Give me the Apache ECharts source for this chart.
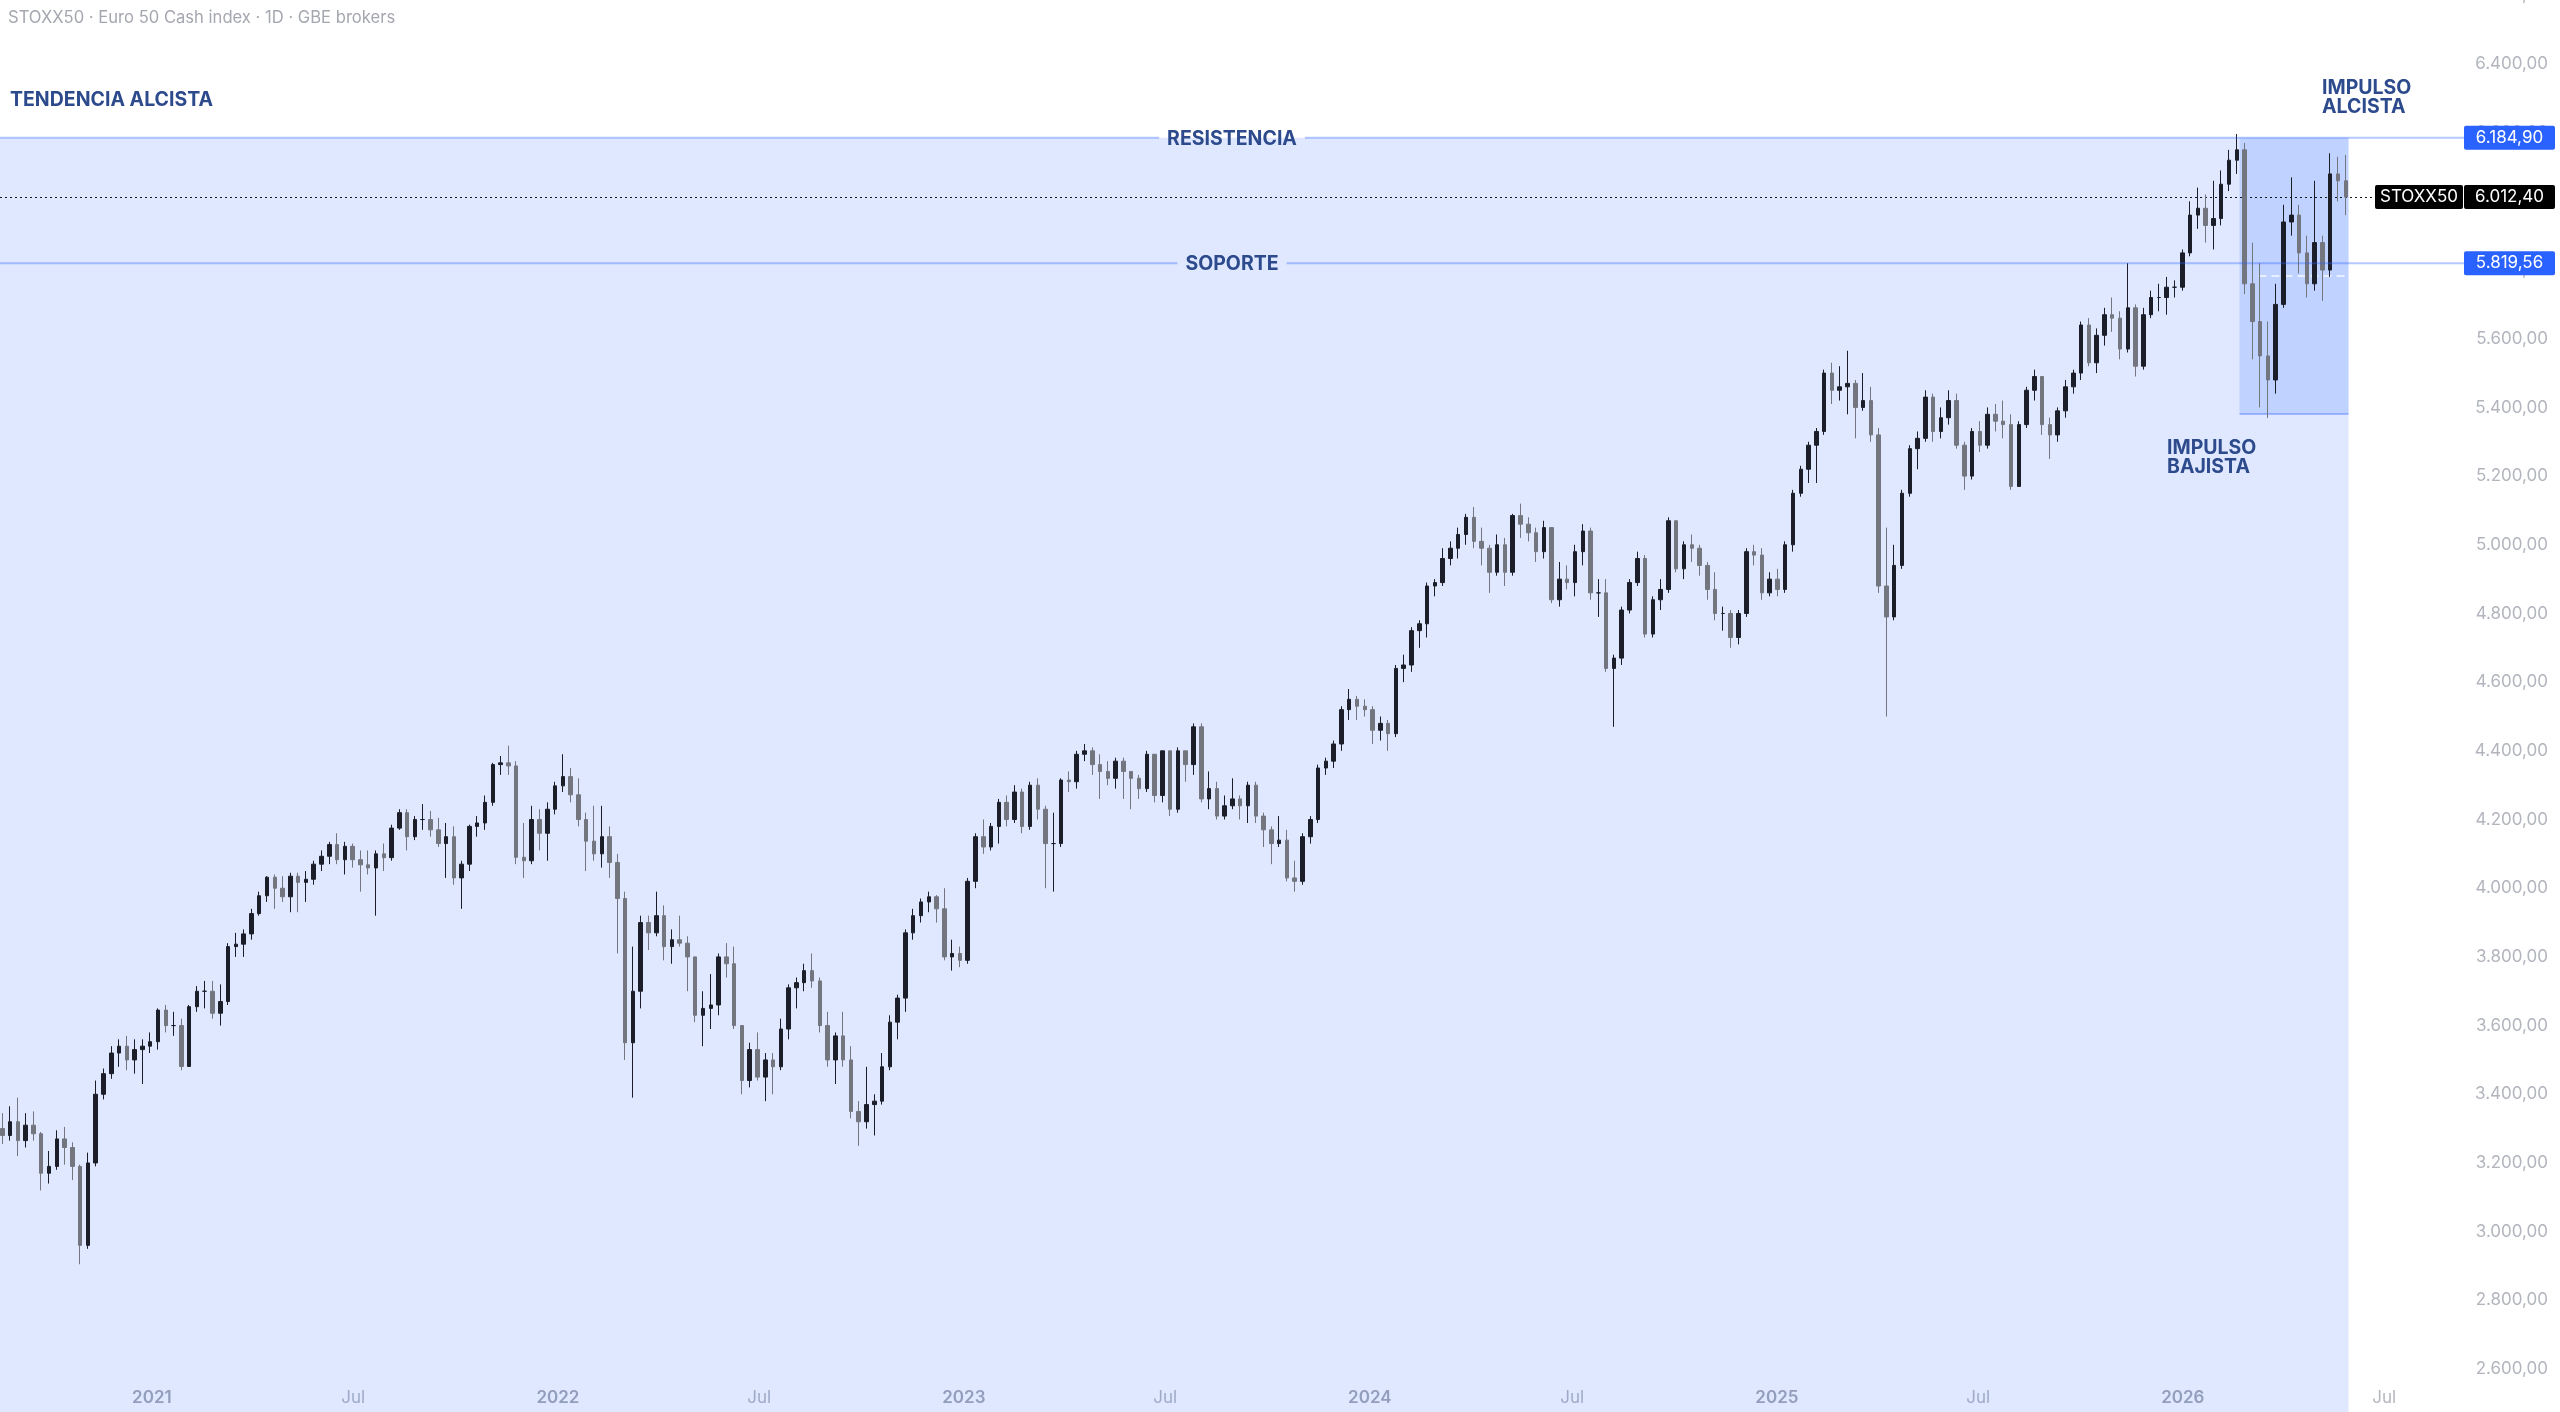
<!DOCTYPE html>
<html>
<head>
<meta charset="utf-8">
<script src="https://cdn.jsdelivr.net/npm/echarts@6/dist/echarts.min.js"></script>
<style>
html,body{margin:0;padding:0;background:#ffffff;}
#c{width:2560px;height:1412px;}
</style>
</head>
<body>
<div id="c"></div>
<script>
// ---------- DATA (weekly candles: [open, close, low, high]) ----------
const dates2020 = ['08-19','08-26','09-02','09-09','09-16','09-23','09-30','10-07','10-14','10-21','10-28','11-04','11-11','11-18','11-25','12-02','12-09','12-16','12-23','12-30'];
const candles2020 = [
[3300,3280,3255,3345],[3280,3320,3265,3365],[3320,3265,3220,3390],[3265,3310,3245,3345],[3310,3285,3265,3350],
[3285,3170,3120,3290],[3170,3190,3140,3235],[3190,3270,3180,3295],[3270,3245,3195,3305],[3245,3190,3150,3260],
[3190,2960,2905,3195],[2960,3200,2950,3230],[3200,3400,3190,3440],[3400,3460,3385,3475],[3460,3520,3445,3540],
[3520,3540,3480,3560],[3540,3500,3470,3570],[3500,3530,3460,3560],[3530,3540,3430,3560],[3540,3553,3520,3580]];

const dates2021 = ['01-06','01-13','01-20','01-27','02-03','02-10','02-17','02-24','03-03','03-10','03-17','03-24','03-31','04-07','04-14','04-21','04-28','05-05','05-12','05-19','05-26','06-02','06-09','06-16','06-23','06-30','07-07','07-14','07-21','07-28','08-04','08-11','08-18','08-25','09-01','09-08','09-15','09-22','09-29','10-06','10-13','10-20','10-27','11-03','11-10','11-17','11-24','12-01','12-08','12-15','12-22','12-29'];
const candles2021 = [
[3553,3645,3530,3650],[3645,3600,3580,3660],[3600,3600,3570,3640],[3600,3481,3470,3620],[3481,3655,3480,3660],
[3655,3700,3640,3715],[3700,3700,3650,3730],[3700,3636,3620,3730],[3636,3670,3600,3720],[3670,3830,3660,3840],
[3830,3837,3800,3870],[3837,3867,3800,3880],[3867,3926,3850,3940],[3926,3978,3920,3990],[3978,4032,3960,4035],
[4032,4000,3940,4040],[4000,3975,3960,4035],[3975,4035,3930,4045],[4035,4017,3930,4045],[4017,4026,3960,4050],
[4026,4070,4010,4080],[4070,4093,4050,4110],[4093,4127,4070,4135],[4127,4083,4070,4160],[4083,4122,4040,4135],
[4122,4083,4060,4130],[4083,4068,3990,4110],[4068,4059,4040,4110],[4059,4100,3920,4110],[4100,4089,4050,4130],
[4089,4175,4080,4185],[4175,4220,4170,4230],[4220,4150,4110,4230],[4150,4200,4140,4210],[4200,4200,4170,4245],
[4200,4170,4150,4225],[4170,4130,4120,4205],[4130,4150,4030,4190],[4150,4030,4010,4180],[4030,4070,3940,4080],
[4070,4180,4050,4185],[4180,4190,4150,4210],[4190,4250,4170,4270],[4250,4360,4240,4365],[4360,4365,4330,4385],
[4365,4356,4330,4415],[4356,4090,4070,4370],[4090,4080,4030,4190],[4080,4200,4070,4240],[4200,4160,4110,4230],
[4160,4230,4080,4250],[4230,4298,4215,4310]];

const dates2022 = ['01-05','01-12','01-19','01-26','02-02','02-09','02-16','02-23','03-02','03-09','03-16','03-23','03-30','04-06','04-13','04-20','04-27','05-04','05-11','05-18','05-25','06-01','06-08','06-15','06-22','06-29','07-06','07-13','07-20','07-27','08-03','08-10','08-17','08-24','08-31','09-07','09-14','09-21','09-28','10-05','10-12','10-19','10-26','11-02','11-09','11-16','11-23','11-30','12-07','12-14','12-21','12-28'];
const candles2022 = [
[4298,4325,4280,4390],[4325,4272,4250,4350],[4272,4200,4180,4320],[4200,4137,4050,4220],[4137,4100,4080,4240],
[4100,4150,4060,4240],[4150,4075,4030,4180],[4075,3970,3810,4100],[3970,3550,3500,3990],[3550,3700,3390,3830],
[3700,3900,3650,3920],[3900,3870,3820,3920],[3870,3920,3860,3990],[3920,3830,3790,3950],[3830,3850,3780,3880],
[3850,3840,3830,3920],[3840,3800,3700,3860],[3800,3630,3610,3800],[3630,3650,3540,3700],[3650,3660,3590,3750],
[3660,3800,3630,3810],[3800,3780,3740,3840],[3780,3600,3590,3830],[3600,3440,3400,3600],[3440,3530,3420,3550],
[3530,3450,3440,3580],[3450,3500,3380,3520],[3500,3480,3400,3520],[3480,3590,3470,3620],[3590,3710,3560,3720],
[3710,3725,3650,3740],[3725,3760,3700,3780],[3760,3730,3710,3810],[3730,3600,3580,3740],[3600,3500,3480,3640],
[3500,3570,3430,3580],[3570,3500,3480,3640],[3500,3350,3330,3540],[3350,3320,3250,3380],[3320,3370,3300,3480],
[3370,3380,3280,3400],[3380,3480,3370,3520],[3480,3610,3470,3630],[3610,3680,3560,3690],[3680,3870,3640,3880],
[3870,3920,3850,3940],[3920,3960,3900,3970],[3960,3975,3930,3990],[3975,3940,3900,3980],[3940,3800,3790,4000],
[3800,3810,3760,3850],[3810,3790,3770,3830]];

const dates2023 = ['01-04','01-11','01-18','01-25','02-01','02-08','02-15','02-22','03-01','03-08','03-15','03-22','03-29','04-05','04-12','04-19','04-26','05-03','05-10','05-17','05-24','05-31','06-07','06-14','06-21','06-28','07-05','07-12','07-19','07-26','08-02','08-09','08-16','08-23','08-30','09-06','09-13','09-20','09-27','10-04','10-11','10-18','10-25','11-01','11-08','11-15','11-22','11-29','12-06','12-13','12-20','12-27'];
const candles2023 = [
[3790,4020,3780,4030],[4020,4150,4000,4160],[4150,4120,4100,4200],[4120,4180,4110,4190],[4180,4250,4130,4260],
[4250,4200,4180,4270],[4200,4280,4190,4300],[4280,4180,4160,4290],[4180,4300,4170,4310],[4300,4230,4200,4320],
[4230,4130,4000,4240],[4130,4130,3990,4220],[4130,4315,4120,4320],[4315,4310,4280,4340],[4310,4390,4290,4400],
[4390,4400,4370,4420],[4400,4360,4330,4410],[4360,4340,4260,4390],[4340,4320,4300,4370],[4320,4370,4290,4380],
[4370,4340,4260,4380],[4340,4320,4230,4340],[4320,4290,4260,4330],[4290,4390,4280,4400],[4390,4270,4250,4390],
[4270,4400,4250,4400],[4400,4230,4210,4400],[4230,4400,4220,4410],[4400,4360,4310,4400],[4360,4470,4330,4480],
[4470,4260,4250,4480],[4260,4290,4230,4340],[4290,4210,4200,4310],[4210,4240,4200,4270],[4240,4260,4230,4320],
[4260,4240,4200,4270],[4240,4300,4190,4310],[4300,4210,4190,4310],[4210,4170,4120,4220],[4170,4130,4070,4180],
[4130,4140,4120,4210],[4140,4030,4020,4170],[4030,4020,3990,4080],[4020,4150,4010,4160],[4150,4200,4130,4210],
[4200,4350,4190,4360],[4350,4370,4330,4380],[4370,4420,4350,4430],[4420,4520,4400,4530],[4520,4550,4490,4580],
[4550,4530,4490,4560],[4530,4520,4500,4550]];

const dates2024 = ['01-03','01-10','01-17','01-24','01-31','02-07','02-14','02-21','02-28','03-06','03-13','03-20','03-27','04-03','04-10','04-17','04-24','05-01','05-08','05-15','05-22','05-29','06-05','06-12','06-19','06-26','07-03','07-10','07-17','07-24','07-31','08-07','08-14','08-21','08-28','09-04','09-11','09-18','09-25','10-02','10-09','10-16','10-23','10-30','11-06','11-13','11-20','11-27','12-04','12-11','12-18','12-25'];
const candles2024 = [
[4520,4460,4420,4530],[4460,4480,4430,4500],[4480,4450,4400,4490],[4450,4640,4440,4650],[4640,4650,4600,4680],
[4650,4750,4630,4760],[4750,4770,4700,4780],[4770,4880,4730,4890],[4880,4890,4850,4900],[4890,4960,4880,4990],
[4960,4990,4940,5010],[4990,5030,4960,5050],[5030,5080,5000,5090],[5080,5010,4990,5110],[5010,4990,4940,5050],
[4990,4920,4860,5000],[4920,5000,4910,5030],[5000,4920,4880,5020],[4920,5085,4910,5090],[5085,5060,5020,5120],
[5060,5035,5010,5080],[5035,4980,4950,5050],[4980,5050,4960,5070],[5050,4840,4830,5050],[4840,4900,4820,4950],
[4900,4890,4870,4940],[4890,4980,4850,5000],[4980,5040,4940,5060],[5040,4860,4840,5050],[4860,4860,4790,4900],
[4860,4640,4630,4900],[4640,4670,4470,4680],[4670,4810,4650,4820],[4810,4890,4800,4900],[4890,4960,4880,4980],
[4960,4740,4730,4970],[4740,4840,4730,4850],[4840,4870,4810,4900],[4870,5070,4860,5080],[5070,4930,4920,5070],
[4930,5000,4900,5010],[5000,4990,4950,5030],[4990,4940,4910,5000],[4940,4870,4840,4950],[4870,4800,4780,4920],
[4800,4800,4750,4820],[4800,4730,4700,4810],[4730,4800,4710,4810],[4800,4980,4790,4990],[4980,4970,4940,5000],
[4970,4860,4840,4990],[4860,4900,4850,4920]];

const dates2025 = ['01-01','01-08','01-15','01-22','01-29','02-05','02-12','02-19','02-26','03-05','03-12','03-19','03-26','04-02','04-09','04-16','04-23','04-30','05-07','05-14','05-21','05-28','06-04','06-11','06-18','06-25','07-02','07-09','07-16','07-23','07-30','08-06','08-13','08-20','08-27','09-03','09-10','09-17','09-24','10-01','10-08','10-15','10-22','10-29','11-05','11-12','11-19','11-26','12-03','12-10','12-17','12-24','12-31'];
const candles2025 = [
[4900,4870,4850,4930],[4870,5000,4860,5010],[5000,5150,4980,5160],[5150,5220,5140,5230],[5220,5290,5180,5300],
[5290,5330,5180,5340],[5330,5500,5320,5510],[5500,5450,5410,5530],[5450,5460,5420,5520],[5460,5470,5380,5565],
[5470,5400,5310,5480],[5400,5420,5390,5500],[5420,5320,5300,5460],[5320,4880,4860,5340],[4880,4790,4500,5050],
[4790,4940,4780,5000],[4940,5150,4930,5160],[5150,5280,5140,5290],[5280,5310,5220,5330],[5310,5430,5300,5450],
[5430,5330,5300,5440],[5330,5370,5310,5400],[5370,5420,5350,5450],[5420,5290,5280,5440],[5290,5200,5160,5300],
[5200,5330,5190,5340],[5330,5290,5270,5360],[5290,5380,5280,5400],[5380,5360,5330,5410],[5360,5350,5310,5420],
[5350,5170,5160,5380],[5170,5350,5170,5360],[5350,5450,5340,5460],[5450,5490,5420,5510],[5490,5350,5320,5490],
[5350,5320,5250,5370],[5320,5390,5300,5400],[5390,5460,5370,5480],[5460,5500,5440,5510],[5500,5640,5480,5650],
[5640,5530,5520,5660],[5530,5610,5500,5630],[5610,5670,5580,5690],[5670,5660,5620,5720],[5660,5570,5540,5680],
[5570,5690,5560,5820],[5690,5520,5490,5700],[5520,5670,5510,5690],[5670,5720,5660,5740],[5720,5720,5680,5760],
[5720,5750,5670,5780],[5750,5750,5720,5770],[5750,5850,5740,5860]];

const dates2026 = ['01-07','01-14','01-21','01-28','02-04','02-11','02-18','02-25','03-04','03-11','03-18','03-25','04-01','04-08','04-15','04-22','04-29','05-06','05-13','05-20','05-27'];
const candles2026 = [
[5850,5960,5840,6000],[5960,5980,5920,6040],[5980,5930,5880,6020],[5930,5950,5860,6060],[5950,6050,5930,6090],
[6050,6120,6030,6150],[6120,6150,6080,6196],[6150,5760,5730,6170],[5760,5650,5540,5880],[5650,5550,5400,5820],
[5550,5480,5369,5650],[5480,5700,5440,5760],[5700,5940,5690,5990],[5940,5960,5900,6070],[5960,5850,5790,5990],
[5850,5760,5720,5900],[5760,5880,5740,6060],[5880,5800,5710,5900],[5800,6080,5780,6140],[6080,6060,6000,6130],
[6060,6012.4,5960,6135]];

// levels drawn on the chart
const resistance = 6184.90;
const support = 5819.56;
const lastPrice = 6012.40;
const impulseLow = 5381;
const dashLevel = 5783;
// rectangle anchors (dates)
const impulseStart = [2026, 2, 21];
const zoneEnd = [2026, 5, 30];
const dashStart = [2026, 3, 10];
const dashEnd = [2026, 5, 28];
// axis
const yMin = 2400, yMax = 6600, yStep = 200;
const xStart = [2020, 8, 17, 10];
const xEnd = [2026, 9, 9];
const xTickDates = [[2021,1,1],[2021,7,1],[2022,1,1],[2022,7,1],[2023,1,1],[2023,7,1],[2024,1,1],[2024,7,1],[2025,1,1],[2025,7,1],[2026,1,1],[2026,7,1]];

// ---------- build ----------
const ts = (y, m, d, h) => new Date(y, m - 1, d, h || 0).getTime();
const years = [[2020,dates2020,candles2020],[2021,dates2021,candles2021],[2022,dates2022,candles2022],[2023,dates2023,candles2023],[2024,dates2024,candles2024],[2025,dates2025,candles2025],[2026,dates2026,candles2026]];
const ohlc = [];
years.forEach(([y, ds, cs]) => {
  ds.forEach((md, i) => {
    const [m, d] = md.split('-').map(Number);
    const c = cs[i];
    ohlc.push([ts(y, m, d, 12), c[0], c[1], c[2], c[3]]);
  });
});

function fmtNum(v) {
  const s = Number(v).toFixed(2);
  const parts = s.split('.');
  return parts[0].replace(/\B(?=(\d{3})+(?!\d))/g, '.') + ',' + parts[1];
}

const FONT = 'Inter, "Noto Sans", Roboto, sans-serif';
const upColor = '#1b1e29';
const downColor = '#73767f';
const fillLight = 'rgba(41,98,255,0.15)';
const fillDark = 'rgba(41,98,255,0.17)';
const levelLine = 'rgba(41,98,255,0.34)';
const annColor = '#2c4a8c';
const axisText = '#b2b5bd';

const chart = echarts.init(document.getElementById('c'), null, {renderer: 'canvas'});

const option = {
  animation: false,
  backgroundColor: '#ffffff',
  grid: {left: 0, right: 98, top: -4.68, bottom: -25.68, containLabel: false, outerBoundsMode: 'none'},
  xAxis: {
    type: 'value',
    min: ts(...xStart),
    max: ts(...xEnd),
    offset: -61,
    axisLine: {show: false},
    axisTick: {show: false},
    splitLine: {show: false},
    axisLabel: {
      customValues: xTickDates.map(a => ts(...a)),
      margin: 13,
      fontSize: 17,
      fontFamily: FONT,
      color: '#b4b7be',
      formatter: function (val) {
        const d = new Date(val);
        return d.getMonth() === 0 ? '{yr|' + d.getFullYear() + '}' : 'Jul';
      },
      rich: {yr: {fontSize: 17, fontFamily: FONT, fontWeight: 600, color: '#a6a9b1'}}
    }
  },
  yAxis: {
    type: 'value',
    position: 'right',
    min: yMin, max: yMax, interval: yStep,
    axisLine: {show: false},
    axisTick: {show: false},
    splitLine: {show: false},
    axisLabel: {
      align: 'right',
      margin: 86,
      fontSize: 17,
      fontFamily: FONT,
      color: axisText,
      formatter: v => fmtNum(v)
    }
  },
  series: [
    {
      type: 'line',
      data: [],
      silent: true,
      z: 1,
      markArea: {
        silent: true,
        data: [
          [{xAxis: ts(...xStart), yAxis: resistance, itemStyle: {color: fillLight}}, {xAxis: ts(...zoneEnd), yAxis: yMin}],
          [{xAxis: ts(...impulseStart), yAxis: resistance, itemStyle: {color: fillDark}}, {xAxis: ts(...zoneEnd), yAxis: impulseLow}]
        ]
      },
      markLine: {
        silent: true,
        symbol: 'none',
        label: {show: false},
        data: [
          {yAxis: lastPrice, lineStyle: {color: '#131722', width: 1, type: [2, 3]}},
          [{coord: [ts(...impulseStart), impulseLow], lineStyle: {color: levelLine, width: 2, type: 'solid'}}, {coord: [ts(...zoneEnd), impulseLow]}],
          [{coord: [ts(...dashStart), dashLevel], lineStyle: {color: 'rgba(255,255,255,0.85)', width: 1.5, type: [8, 5]}}, {coord: [ts(...dashEnd), dashLevel]}]
        ]
      }
    },
    {
      type: 'candlestick',
      name: 'STOXX50',
      data: ohlc,
      encode: {x: 0, y: [1, 2, 3, 4]},
      barWidth: 4,
      z: 5,
      silent: true,
      itemStyle: {color: upColor, color0: downColor, borderColor: upColor, borderColor0: downColor, borderWidth: 1}
    }
  ]
};
chart.setOption(option);

// ---------- overlay annotations tied to the axis scale ----------
const yPx = v => chart.convertToPixel({yAxisIndex: 0}, v);
const mctx = document.createElement('canvas').getContext('2d');
const textW = (t, f) => { mctx.font = f; return mctx.measureText(t).width; };
const lineEndX = 2464;
const labelFont = 'bold 19.5px ' + FONT;
const els = [];

function levelWithText(val, text) {
  const y = yPx(val);
  const cx = lineEndX / 2;
  const w = textW(text, labelFont);
  const gap = 8;
  els.push({type: 'line', z: 50, silent: true, shape: {x1: 0, y1: y, x2: cx - w / 2 - gap, y2: y}, style: {stroke: levelLine, lineWidth: 2}});
  els.push({type: 'line', z: 50, silent: true, shape: {x1: cx + w / 2 + gap, y1: y, x2: lineEndX, y2: y}, style: {stroke: levelLine, lineWidth: 2}});
  els.push({type: 'text', z: 51, silent: true, x: cx, y: y + 1, style: {text: text, font: labelFont, fill: annColor, align: 'center', verticalAlign: 'middle'}});
}
levelWithText(resistance, 'RESISTENCIA');
levelWithText(support, 'SOPORTE');

function priceBox(val, color, x, w, text) {
  const y = yPx(val);
  els.push({type: 'rect', z: 60, silent: true, shape: {x: x, y: y - 12, width: w, height: 24, r: 2}, style: {fill: color}});
  els.push({type: 'text', z: 61, silent: true, x: x + w / 2, y: y, style: {text: text, font: '17px ' + FONT, fill: '#ffffff', align: 'center', verticalAlign: 'middle'}});
}
priceBox(resistance, '#2962ff', 2464, 91, fmtNum(resistance));
priceBox(support, '#2962ff', 2464, 91, fmtNum(support));
priceBox(lastPrice, '#000000', 2375, 88, 'STOXX50');
priceBox(lastPrice, '#000000', 2464, 91, fmtNum(lastPrice));

// free text annotations
els.push({type: 'text', z: 70, silent: true, x: 8, y: 18, style: {text: 'STOXX50 · Euro 50 Cash index · 1D · GBE brokers', font: '16.6px ' + FONT, fill: '#a4a7af', align: 'left', verticalAlign: 'middle'}});
els.push({type: 'text', z: 70, silent: true, x: 10, y: 100, style: {text: 'TENDENCIA ALCISTA', font: labelFont, fill: annColor, align: 'left', verticalAlign: 'middle'}});
els.push({type: 'text', z: 70, silent: true, x: 2322, y: 79, style: {text: 'IMPULSO\nALCISTA', font: labelFont, lineHeight: 19, fill: annColor, align: 'left', verticalAlign: 'top'}});
els.push({type: 'text', z: 70, silent: true, x: 2167, y: 439, style: {text: 'IMPULSO\nBAJISTA', font: labelFont, lineHeight: 19, fill: annColor, align: 'left', verticalAlign: 'top'}});

chart.setOption({graphic: {elements: els}});
</script>
</body>
</html>
